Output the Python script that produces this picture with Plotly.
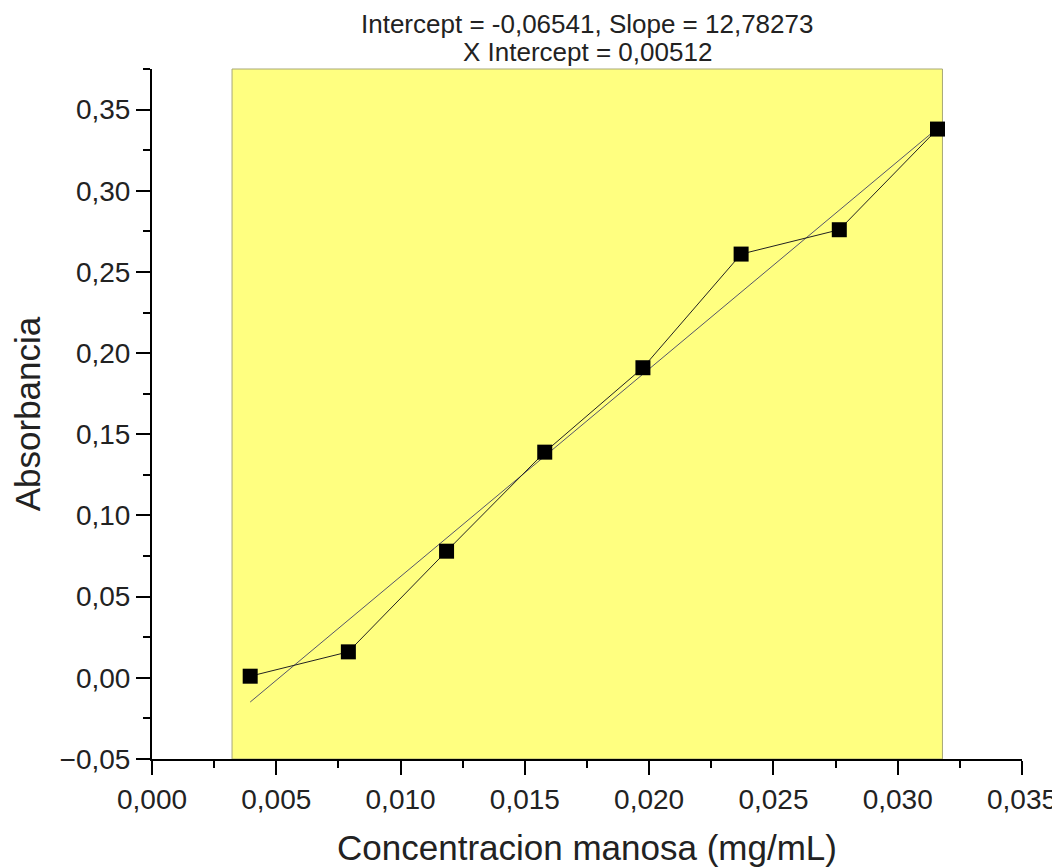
import plotly.graph_objects as go

# Data
concentracion = [0.00395, 0.00790, 0.01185, 0.01580, 0.01975, 0.02370, 0.02765, 0.03160]
absorbancia = [0.001, 0.016, 0.078, 0.139, 0.191, 0.261, 0.276, 0.338]

intercept = -0.06541
slope = 12.78273
x_intercept = 0.00512

# Shaded region (x extent, in data units)
region_x = [0.00322, 0.03180]

fit_x = [concentracion[0], concentracion[-1]]
fit_y = [intercept + slope * x for x in fit_x]

fig = go.Figure()

fig.add_shape(type="rect", xref="x", yref="paper",
              x0=region_x[0], x1=region_x[1], y0=0, y1=1,
              fillcolor="#FFFF80", line=dict(color="#A8A878", width=1), layer="below")

fig.add_trace(go.Scatter(x=fit_x, y=fit_y, mode="lines",
                         line=dict(color="#55556A", width=1), showlegend=False))
fig.add_trace(go.Scatter(x=concentracion, y=absorbancia, mode="lines+markers",
                         line=dict(color="#222222", width=1),
                         marker=dict(symbol="square", size=15, color="black"),
                         showlegend=False))

font_family = "Liberation Sans, Arial, sans-serif"

line1 = f"Intercept = {intercept:.5f}, Slope = {slope:.5f}".replace(".", ",")
line2 = f"X Intercept = {x_intercept:.5f}".replace(".", ",")
for txt, yy in [(line1, 1.065), (line2, 1.024)]:
    fig.add_annotation(text=txt, xref="paper", yref="paper", x=0.5, y=yy,
                       xanchor="center", yanchor="middle", showarrow=False,
                       font=dict(size=26, family=font_family, color="#222222"))

fig.update_layout(
    width=1060, height=867,
    margin=dict(l=144, r=46, t=61, b=116),
    paper_bgcolor="white", plot_bgcolor="white",
    separators=",.",
    font=dict(family=font_family, color="black"),
    xaxis=dict(range=[0, 0.035], dtick=0.005, tick0=0, tickformat=".3f", automargin=False,
               showgrid=False, zeroline=False, showline=True, linecolor="black", linewidth=2,
               ticks="outside", ticklen=14, tickwidth=2, tickcolor="black",
               minor=dict(ticks="outside", ticklen=7, tickwidth=2, tickcolor="black", dtick=0.0025),
               tickfont=dict(size=28, family=font_family, color="#222222"),
               title=dict(text="Concentracion manosa (mg/mL)", font=dict(size=35, family=font_family, color="#222222"), standoff=22)),
    yaxis=dict(range=[-0.05, 0.375], dtick=0.05, tick0=0, tickformat=".2f", automargin=False,
               showgrid=False, zeroline=False, showline=True, linecolor="black", linewidth=2,
               ticks="outside", ticklen=14, tickwidth=2, tickcolor="black",
               minor=dict(ticks="outside", ticklen=7, tickwidth=2, tickcolor="black", dtick=0.025),
               tickfont=dict(size=28, family=font_family, color="#222222"),
               title=dict(text="Absorbancia", font=dict(size=35, family=font_family, color="#222222"), standoff=18)),
)

fig.write_html("out.html")
